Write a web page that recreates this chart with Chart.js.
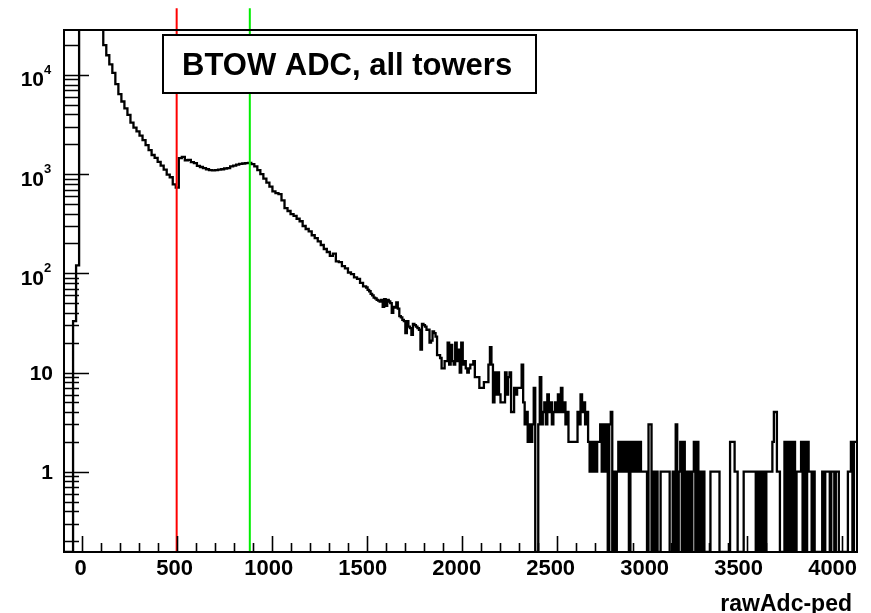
<!DOCTYPE html>
<html>
<head>
<meta charset="utf-8">
<script src="https://cdn.jsdelivr.net/npm/chart.js@4.4.1/dist/chart.umd.min.js"></script>
<style>
  html, body { margin: 0; padding: 0; background: #fff; }
</style>
</head>
<body>
<canvas id="adcChart" width="871" height="613"></canvas>
<script>
// histogram binning (ADC units)
const binLow = -93;
const binWidth = 15.9;
// the noisy part above ~1500 is read at a finer step
const midLow = 1497;
const tailLow = 2387.4;
const fineWidth = 7.95;

// counts per bin (pedestal peak + dip at 500)
const countsPeak = [0, 0, 0, 33, 120, 200000, 900000, 700000, 400000, 200000, 100000, 60000, 35000,
  20000, 15800, 12800, 10500, 8100, 6400, 5400, 4600, 3950, 3300, 2950, 2700, 2450, 2200, 1960,
  1750, 1560, 1460, 1330, 1220, 1110, 990, 930, 790, 730];
// shoulder between the two cut lines and the falling edge up to ~1500
const countsFall = [1450, 1490, 1380, 1390, 1320, 1290, 1210, 1180, 1150, 1120, 1100, 1090, 1100,
  1110, 1120, 1140, 1150, 1200, 1220, 1250, 1270, 1280, 1290, 1300, 1260, 1200, 1100, 1000, 900,
  820, 750, 670,
  645, 630, 545, 455, 425, 395, 380, 355, 335, 300, 280, 265, 242, 226, 210, 193, 176, 164, 150,
  158, 132, 130, 118, 112, 102, 98, 91, 88, 80, 74];
// noisy band ~1500 to ~2400
const countsMid = [
  72, 68, 66, 62, 60, 57, 56, 54, 53, 52,   54, 46, 55, 47, 54, 52, 50, 40, 46, 45,
  51, 44, 37, 36, 34, 33, 25, 33, 29, 28,   24, 31, 30, 29, 28, 27, 17, 31, 30, 29,
  27, 27, 20, 21, 26, 25, 23, 15, 15, 14,   11, 11, 13, 13, 20, 12, 19, 13, 12, 20,
  13, 17, 10, 20, 12, 13, 11, 10, 11, 12,   12, 13, 9, 9, 9, 7, 7, 7, 8, 8,
  8, 12, 18, 12, 5, 10, 6, 10, 6, 5,        5, 5, 10, 6, 9, 10, 4, 4, 7, 6,
  7, 7, 7, 12, 5, 3, 4, 2, 3, 2,            3, 7];
// sparse tail above ~2400
const countsTail = [
  0, 0, 3, 9, 3, 4, 5, 3, 6, 4,   5, 3, 4, 5, 4, 6, 4, 7, 4, 5,
  3, 4, 2, 2, 2, 2, 2, 2, 4, 3,   6, 4, 5, 3, 4, 2, 1, 2, 1, 2,
  1, 2, 2, 3, 1, 3, 1, 3, 0, 3,   4, 0, 1, 0, 1, 2, 1, 2, 1, 2,
  1, 2, 0, 2, 1, 2, 1, 2, 1, 2,   1, 1, 1, 1, 0, 3, 3, 0, 1, 0,
  1, 0, 0, 1, 1, 1, 1, 1, 1, 0,   0, 1, 0, 3, 0, 1, 2, 0, 2, 0,
  1, 0, 1, 0, 1, 2, 0, 2, 0, 1,   0, 1, 0, 0, 0, 0, 1, 1, 1, 1,
  1, 1, 0, 0, 0, 0, 0, 0, 0, 2,   2, 2, 1, 1, 0, 0, 0, 0, 1, 1,
  1, 1, 1, 1, 1, 1, 0, 1, 0, 1,   0, 1, 0, 1, 1, 1, 1, 2, 4, 4,
  1, 1, 0, 0, 0, 2, 0, 2, 0, 2,   0, 2, 0, 1, 1, 1, 2, 0, 2, 0,
  2, 1, 1, 0, 1, 0, 0, 0, 0, 0,   1, 0, 1, 1, 1, 0, 1, 1, 0, 1,
  1, 0, 0, 0, 0, 0, 0, 1, 1, 2,   0, 2, 2, 2];

// cut lines
const cutValues = [500, 885];
const cutColors = ['#ff0000', '#00ee00'];
const cutTop = 47000;

// axes
const xMin = -93, xMax = 4081;
const yMin = 0.155, yMax = 28400;
const xTickValues = [0, 500, 1000, 1500, 2000, 2500, 3000, 3500, 4000];
const yTickValues = [1, 10, 100, 1000, 10000];
const yTickBase = ['1', '10', '10', '10', '10'];
const yTickExp = ['', '', '2', '3', '4'];
const titleText = 'BTOW ADC, all towers';
const xTitle = 'rawAdc-ped';

// histogram outline: two points per bin, zero bins sit on the floor like ROOT does
const histPoints = [];
function addBins(list, low, width) {
  list.forEach((c, k) => {
    const lo = low + k * width;
    const v = c > 0 ? c : yMin;
    histPoints.push({ x: lo, y: v }, { x: lo + width, y: v });
  });
}
addBins(countsPeak.concat(countsFall), binLow, binWidth);
addBins(countsMid, midLow, fineWidth);
addBins(countsTail, tailLow, fineWidth);

const cutSets = cutValues.map((c, i) => ({
  data: [{ x: c, y: yMin }, { x: c, y: cutTop }],
  borderColor: cutColors[i],
  borderWidth: 2,
  pointRadius: 0,
  clip: false,
  order: 0
}));

const FONT = '"Liberation Sans", Arial, Helvetica, sans-serif';

const rootFrame = {
  id: 'rootFrame',
  afterDatasetsDraw(chart) {
    const { ctx, chartArea: a, scales: { x, y } } = chart;
    ctx.save();
    ctx.strokeStyle = '#000';
    ctx.fillStyle = '#000';

    // ticks (inside the frame)
    ctx.lineWidth = 1.6;
    ctx.beginPath();
    for (let v = 0; v <= xMax; v += 100) {
      const px = Math.round(x.getPixelForValue(v)) + 0.5;
      const len = v % 500 === 0 ? 16 : 9;
      ctx.moveTo(px, a.bottom);
      ctx.lineTo(px, a.bottom - len);
    }
    for (let e = -1; e <= 4; e++) {
      for (let m = 1; m <= 9; m++) {
        const v = m * Math.pow(10, e);
        if (v < yMin || v > yMax) continue;
        const py = Math.round(y.getPixelForValue(v)) + 0.5;
        ctx.moveTo(a.left, py);
        ctx.lineTo(a.left + (m === 1 ? 25 : 15), py);
      }
    }
    ctx.stroke();

    // frame
    ctx.lineWidth = 2;
    ctx.strokeRect(a.left, a.top, a.right - a.left, a.bottom - a.top);

    // x labels (they sit a little left of their ticks in the original)
    ctx.font = 'bold 22px ' + FONT;
    ctx.textAlign = 'center';
    ctx.textBaseline = 'alphabetic';
    xTickValues.forEach(v => {
      ctx.fillText(String(v), x.getPixelForValue(v) - 0.002 * v - 1, 575);
    });

    // y labels
    yTickValues.forEach((v, i) => {
      const py = y.getPixelForValue(v);
      if (yTickExp[i]) {
        ctx.font = 'bold 21px ' + FONT;
        ctx.textAlign = 'right';
        ctx.fillText(yTickBase[i], 44, py + 11.5);
        ctx.font = 'bold 13px ' + FONT;
        ctx.textAlign = 'left';
        ctx.fillText(yTickExp[i], 44, py - 1);
      } else {
        ctx.font = 'bold 21px ' + FONT;
        ctx.textAlign = 'right';
        ctx.fillText(yTickBase[i], 53, py + 7);
      }
    });

    // axis title
    ctx.font = 'bold 23px ' + FONT;
    ctx.textAlign = 'right';
    ctx.fillText(xTitle, 852, 611);

    // title box
    ctx.fillStyle = '#fff';
    ctx.fillRect(163, 35, 373, 58);
    ctx.lineWidth = 2;
    ctx.strokeRect(163, 35, 373, 58);
    ctx.fillStyle = '#000';
    ctx.font = 'bold 31px ' + FONT;
    ctx.textAlign = 'left';
    ctx.fillText(titleText, 182, 75);
    ctx.restore();
  }
};

new Chart(document.getElementById('adcChart'), {
  type: 'line',
  data: {
    datasets: [
      ...cutSets,
      {
        data: histPoints,
        borderColor: '#000',
        borderWidth: 2.3,
        pointRadius: 0,
        tension: 0,
        clip: 0,
        order: 1
      }
    ]
  },
  options: {
    responsive: false,
    animation: false,
    devicePixelRatio: 1,
    layout: { padding: { left: 64, top: 30, right: 14, bottom: 61 } },
    scales: {
      x: { type: 'linear', min: xMin, max: xMax, display: false },
      y: { type: 'logarithmic', min: yMin, max: yMax, display: false }
    },
    plugins: { legend: { display: false }, tooltip: { enabled: false } }
  },
  plugins: [rootFrame]
});
</script>
</body>
</html>
